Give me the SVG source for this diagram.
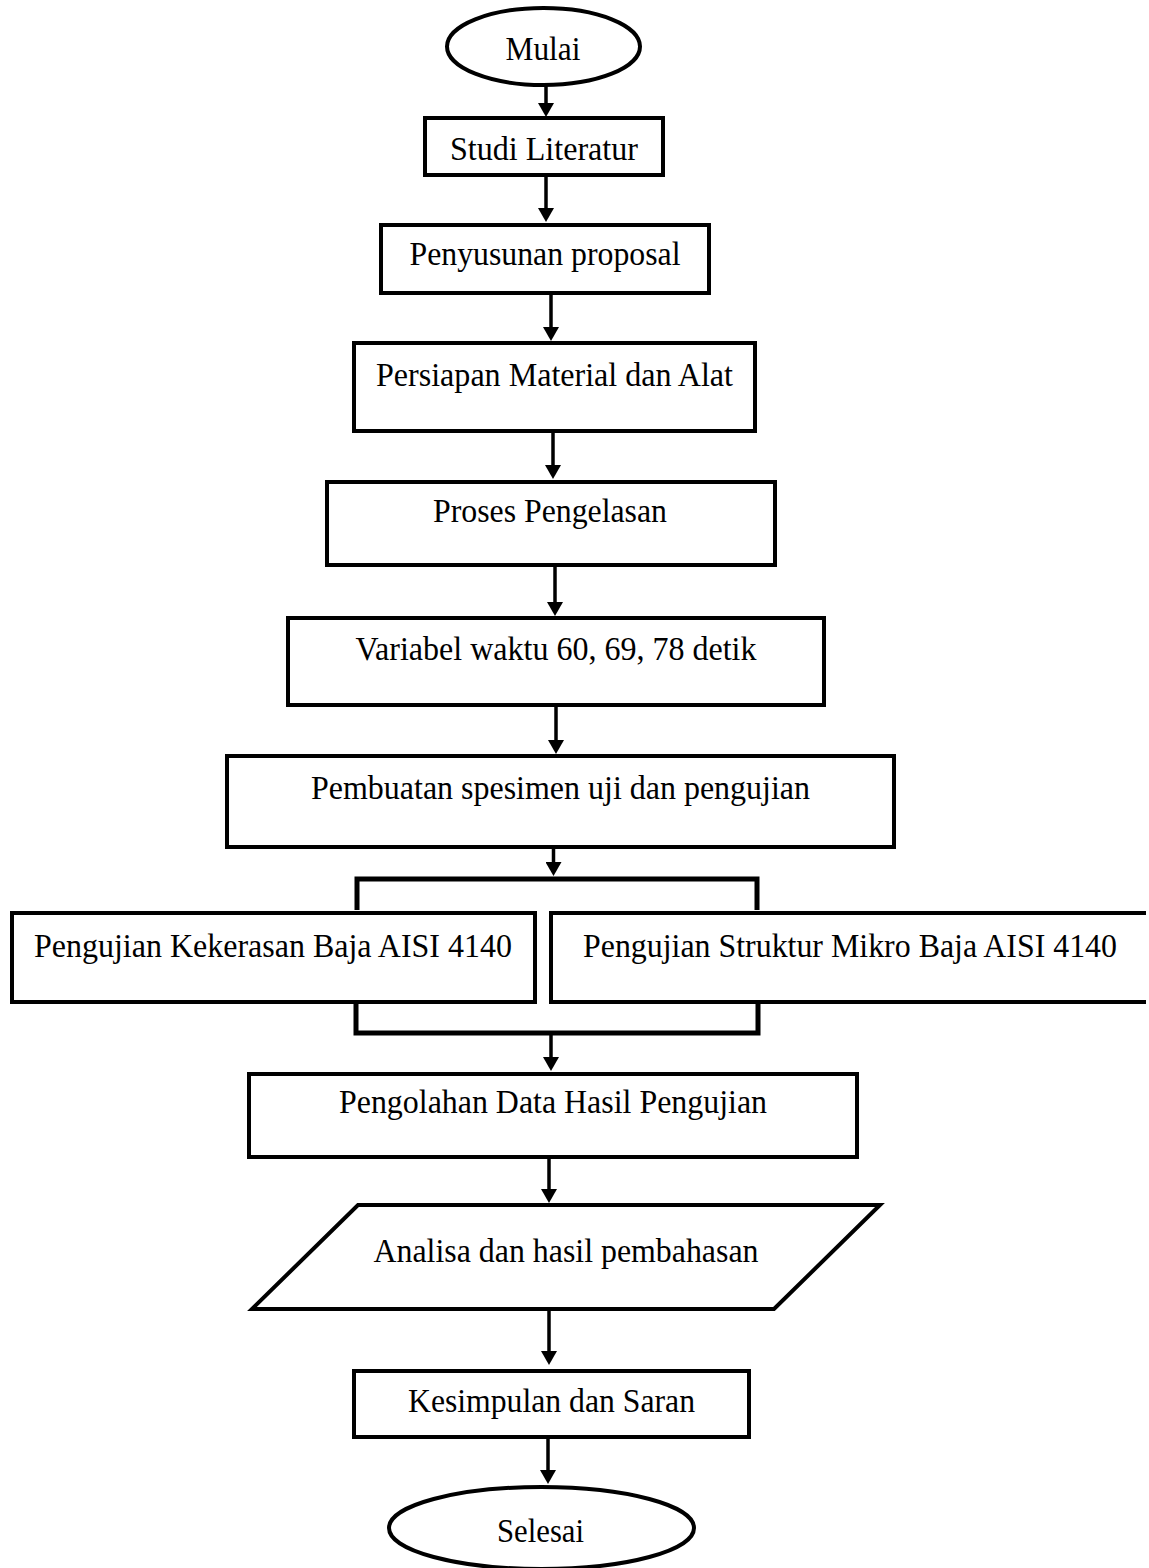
<svg xmlns="http://www.w3.org/2000/svg" width="1149" height="1568" viewBox="0 0 1149 1568">
<style>
  .box { fill: #ffffff; stroke: #000000; stroke-width: 4; }
  .lbl { font-family: "Liberation Serif", "Times New Roman", serif; font-size: 34px; fill: #000000; text-anchor: middle; }
  .arrow { stroke: #000000; stroke-width: 3.5; fill: none; marker-end: url(#head); }
  .bracket { stroke: #000000; stroke-width: 5; fill: none; }
</style>
<defs>
  <marker id="head" markerUnits="userSpaceOnUse" markerWidth="16" markerHeight="16" viewBox="0 0 14 16" refX="1" refY="8" orient="auto">
    <path d="M0,0 L14,8 L0,16 Z" fill="#000000"/>
  </marker>
</defs>
<rect x="0" y="0" width="1149" height="1568" fill="#ffffff"/>

<g id="connectors">
  <line class="arrow" x1="546" y1="86" x2="546" y2="104"/>
  <line class="arrow" x1="546" y1="177" x2="546" y2="209"/>
  <line class="arrow" x1="551" y1="295" x2="551" y2="328"/>
  <line class="arrow" x1="553" y1="433" x2="553" y2="466"/>
  <line class="arrow" x1="555" y1="567" x2="555" y2="603"/>
  <line class="arrow" x1="556" y1="707" x2="556" y2="741"/>
  <line class="arrow" x1="553.5" y1="849" x2="553.5" y2="863"/>
  <path class="bracket" d="M357,910 L357,879 L757,879 L757,910"/>
  <path class="bracket" d="M356,1000 L356,1033 L758,1033 L758,1000"/>
  <line class="arrow" x1="551" y1="1035" x2="551" y2="1058"/>
  <line class="arrow" x1="549" y1="1159" x2="549" y2="1190"/>
  <line class="arrow" x1="549" y1="1311" x2="549" y2="1352"/>
  <line class="arrow" x1="548" y1="1439" x2="548" y2="1471"/>
</g>

<g id="mulai">
  <ellipse class="box" cx="543.5" cy="46.5" rx="96.5" ry="38.5"/>
  <text class="lbl" x="543" y="60" textLength="75" lengthAdjust="spacingAndGlyphs">Mulai</text>
</g>
<g id="studi-literatur">
  <rect class="box" x="425" y="118" width="238" height="57"/>
  <text class="lbl" x="544" y="160" textLength="188" lengthAdjust="spacingAndGlyphs">Studi Literatur</text>
</g>
<g id="penyusunan-proposal">
  <rect class="box" x="381" y="225" width="328" height="68"/>
  <text class="lbl" x="545" y="265" textLength="271" lengthAdjust="spacingAndGlyphs">Penyusunan proposal</text>
</g>
<g id="persiapan">
  <rect class="box" x="354" y="343" width="401" height="88"/>
  <text class="lbl" x="554.5" y="386" textLength="357" lengthAdjust="spacingAndGlyphs">Persiapan Material dan Alat</text>
</g>
<g id="proses-pengelasan">
  <rect class="box" x="327" y="482" width="448" height="83"/>
  <text class="lbl" x="550" y="522" textLength="234" lengthAdjust="spacingAndGlyphs">Proses Pengelasan</text>
</g>
<g id="variabel-waktu">
  <rect class="box" x="288" y="618" width="536" height="87"/>
  <text class="lbl" x="556" y="660" textLength="401" lengthAdjust="spacingAndGlyphs">Variabel waktu 60, 69, 78 detik</text>
</g>
<g id="pembuatan-spesimen">
  <rect class="box" x="227" y="756" width="667" height="91"/>
  <text class="lbl" x="560.5" y="799" textLength="499" lengthAdjust="spacingAndGlyphs">Pembuatan spesimen uji dan pengujian</text>
</g>
<g id="uji-kekerasan">
  <rect class="box" x="12" y="913" width="523" height="89"/>
  <text class="lbl" x="273" y="957" textLength="478" lengthAdjust="spacingAndGlyphs">Pengujian Kekerasan Baja AISI 4140</text>
</g>
<g id="uji-struktur-mikro">
  <path class="box" d="M1146,913 L551,913 L551,1002 L1146,1002"/>
  <text class="lbl" x="583" y="957" style="text-anchor:start" textLength="534" lengthAdjust="spacingAndGlyphs">Pengujian Struktur Mikro Baja AISI 4140</text>
</g>
<g id="pengolahan-data">
  <rect class="box" x="249" y="1074" width="608" height="83"/>
  <text class="lbl" x="553" y="1113" textLength="428" lengthAdjust="spacingAndGlyphs">Pengolahan Data Hasil Pengujian</text>
</g>
<g id="analisa">
  <polygon class="box" points="358,1205 880,1205 774,1309 252,1309"/>
  <text class="lbl" x="566" y="1262" textLength="385" lengthAdjust="spacingAndGlyphs">Analisa dan hasil pembahasan</text>
</g>
<g id="kesimpulan">
  <rect class="box" x="354" y="1371" width="395" height="66"/>
  <text class="lbl" x="551.5" y="1412" textLength="287" lengthAdjust="spacingAndGlyphs">Kesimpulan dan Saran</text>
</g>
<g id="selesai">
  <ellipse class="box" cx="541.5" cy="1528" rx="152.5" ry="41"/>
  <text class="lbl" x="540.5" y="1542" textLength="87" lengthAdjust="spacingAndGlyphs">Selesai</text>
</g>
</svg>
